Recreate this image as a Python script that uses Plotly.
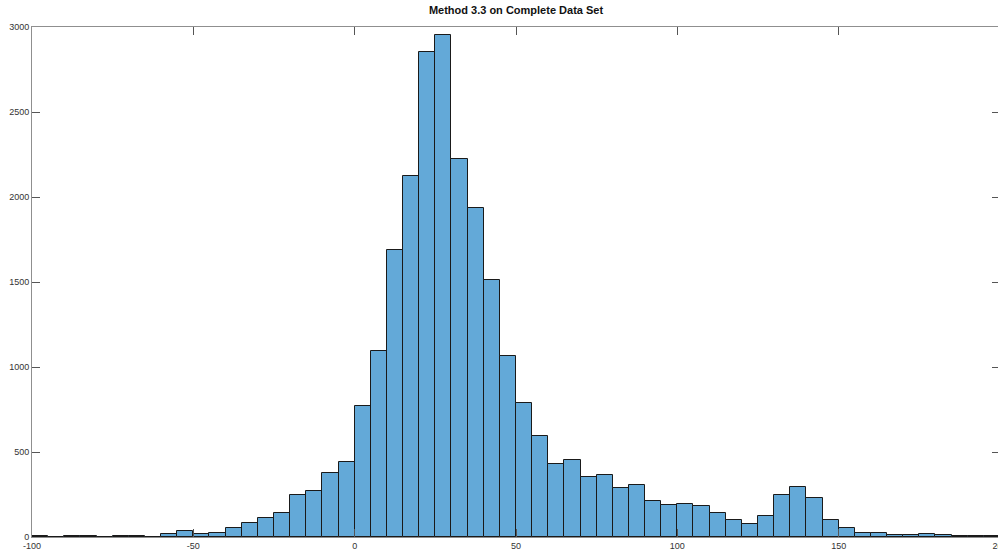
import plotly.graph_objects as go

title_text = "Method 3.3 on Complete Data Set"
bin_start = -100
bin_width = 5
counts = [
    3, 0, 3, 3, 0, 5, 5, 2, 20, 36,
    17, 25, 51, 80, 110, 139, 247, 269, 376, 441,
    772, 1092, 1688, 2122, 2853, 2955, 2225, 1938, 1510, 1062,
    786, 592, 431, 451, 353, 363, 287, 306, 209, 186,
    194, 184, 143, 98, 78, 124, 247, 292, 231, 98,
    53, 24, 24, 12, 10, 18, 10, 6, 4, 7,
]
x_ticks = [-100, -50, 0, 50, 100, 150, 200]
y_ticks = [0, 500, 1000, 1500, 2000, 2500, 3000]

centers = [bin_start + bin_width * (i + 0.5) for i in range(len(counts))]

fig = go.Figure(
    go.Bar(
        x=centers,
        y=counts,
        width=bin_width,
        marker=dict(color="#63a9d8", line=dict(color="#1a1a1a", width=1)),
        hoverinfo="x+y",
    )
)

axis_common = dict(
    showline=True,
    linecolor="#8f8f8f",
    linewidth=1,
    mirror="ticks",
    ticks="inside",
    ticklen=8,
    tickcolor="#555555",
    tickwidth=1,
    showgrid=False,
    zeroline=False,
    tickfont=dict(family="Liberation Sans, Arial, sans-serif", size=9, color="#333333"),
    automargin=False,
    ticklabeloverflow="allow",
)

fig.update_layout(
    width=1000,
    height=552,
    margin=dict(l=32, r=0, t=27, b=15),
    paper_bgcolor="white",
    plot_bgcolor="white",
    bargap=0,
    showlegend=False,
    title=dict(
        text="<b>" + title_text + "</b>",
        x=0.516,
        xanchor="center",
        y=0.982,
        yanchor="middle",
        font=dict(family="Liberation Sans, Arial, sans-serif", size=11, color="#111111"),
    ),
    xaxis=dict(range=[-100, 200], tickvals=x_ticks, ticktext=[str(v) for v in x_ticks], **axis_common),
    yaxis=dict(range=[0, 3000], tickvals=y_ticks, ticktext=[str(v) for v in y_ticks], **axis_common),
)

fig.write_html(
    "out.html",
    config={"displayModeBar": False},
    post_script="document.body.style.margin='0';document.body.style.overflow='hidden';",
)
